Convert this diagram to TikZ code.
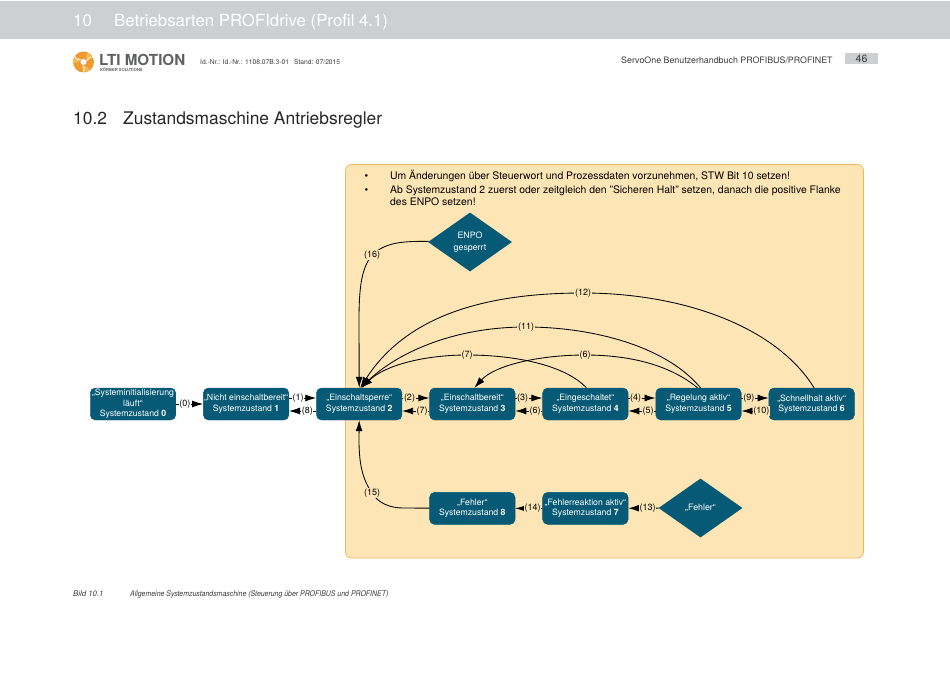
\documentclass[tikz,border=0pt]{standalone}
\usepackage{fontspec}
\setmainfont{TeX Gyre Heros}
\usepackage{xcolor}
\definecolor{ltibar}{HTML}{CDCFD1}
\definecolor{ltipanel}{HTML}{FDE5B5}
\definecolor{ltiedge}{HTML}{F0B95F}
\definecolor{ltibox}{HTML}{065A76}
\definecolor{ltitext}{HTML}{3A3A3A}
\definecolor{ltigrey}{HTML}{5F6062}
\definecolor{ltiorange}{HTML}{EE9A2E}
\definecolor{ltiamber}{HTML}{F7B85A}
\usetikzlibrary{arrows.meta,positioning,shapes.geometric}
\tikzset{
  statebox/.style={draw=ltibox,fill=ltibox,rounded corners=5pt,text=white,align=center,font=\fontsize{8.7}{10.6}\selectfont,minimum width=85.5pt,minimum height=32pt,inner sep=0pt},
  gatebox/.style={diamond,fill=ltibox,text=white,align=center,font=\fontsize{8.8}{12.5}\selectfont,minimum width=84pt,minimum height=59pt,inner sep=0pt},
  flow/.style={line width=0.85pt,-{Latex[length=11pt,width=7pt]}},
  lbl/.style={font=\fontsize{9}{10}\selectfont,fill=ltipanel,inner sep=0.6pt},
  lblw/.style={lbl,fill=white},
  textline/.style={inner sep=0pt,anchor=base west}
}
\begin{document}
\begin{tikzpicture}[x=1pt,y=-1pt,node distance=72pt and 27.2pt]
\useasboundingbox (0,0) rectangle (950,672);
\fill[ltibar] (0,1) rectangle (950,38.5);
\node[textline,text=white,font=\fontsize{16.8}{20}\selectfont] (chapnum) at (73,26.5) {10};
\node[textline,text=white,font=\fontsize{16.8}{20}\selectfont] (chaptitle) at (114,26.5) {Betriebsarten PROFIdrive (Profil 4.1)};
\fill[ltiorange] (83.5,62) circle (10.5pt);
\foreach \a in {20,140,260}{
  \fill[ltiamber,rotate around={\a:(83.5,62)}] (83.5,62) ++(3.5,0) .. controls (88,55) and (90,53) .. (93,57) .. controls (92,62) and (90,63) .. cycle;
  \draw[white,line width=0.7pt,rotate around={\a:(83.5,62)}] (87,62) .. controls (89,60) and (91,59) .. (94,61);
}
\fill[white] (83.5,62) circle (3pt);
\node[textline,text=ltigrey,font=\bfseries\fontsize{15.2}{16}\selectfont] (logo) at (99,65.5) {LTI MOTION};
\node[textline,text=ltigrey,font=\bfseries\fontsize{4.1}{5}\selectfont] (logosub) at (100,71.5) {KÖRBER SOLUTIONS};
\node[textline,text=ltitext,font=\fontsize{6.7}{8}\selectfont] (docid) at (200,64.5) {Id.-Nr.: Id.-Nr.: 1108.07B.3-01\hspace{5pt}Stand: 07/2015};
\node[textline,text=ltitext,font=\fontsize{8.85}{11}\selectfont] (manual) at (621,63.5) {ServoOne Benutzerhandbuch PROFIBUS/PROFINET};
\node[fill=ltibar,text=ltitext,minimum width=33pt,minimum height=11pt,inner sep=0pt,font=\fontsize{10.5}{10}\selectfont] (pagenum) at (861.5,58.5) {46};
\node[textline,text=black!85,font=\fontsize{17.4}{20}\selectfont] (secnum) at (73,124.5) {10.2};
\node[textline,text=black!85,font=\fontsize{17.4}{20}\selectfont] (sectitle) at (123,124.5) {Zustandsmaschine Antriebsregler};
\draw[ltiedge,fill=ltipanel,line width=0.8pt,rounded corners=6pt] (345.5,164.5) rectangle (863.5,558);
\node[anchor=north west,inner sep=0pt,font=\fontsize{10.4}{12}\selectfont] (notes) at (364.5,170) {%
\begin{tabular}{@{}p{13.5pt}@{\hspace{12pt}}l@{}}
\textbullet & Um Änderungen über Steuerwort und Prozessdaten vorzunehmen, STW Bit 10 setzen!\\[2pt]
\textbullet & Ab Systemzustand 2 zuerst oder zeitgleich den "Sicheren Halt" setzen, danach die positive Flanke\\
& des ENPO setzen!
\end{tabular}};
\node[statebox] (sys0) at (133,404) {„Systeminitialisierung\\läuft“\\Systemzustand \textbf{0}};
\node[statebox,right=of sys0] (sys1) {„Nicht einschaltbereit“\\Systemzustand \textbf{1}};
\node[statebox,right=of sys1] (sys2) {„Einschaltsperre“\\Systemzustand \textbf{2}};
\node[statebox,right=of sys2] (sys3) {„Einschaltbereit“\\Systemzustand \textbf{3}};
\node[statebox,right=of sys3] (sys4) {„Eingeschaltet“\\Systemzustand \textbf{4}};
\node[statebox,right=of sys4] (sys5) {„Regelung aktiv“\\Systemzustand \textbf{5}};
\node[statebox,right=of sys5] (sys6) {„Schnellhalt aktiv“\\Systemzustand \textbf{6}};
\node[statebox,below=of sys3] (sys8) {„Fehler“\\Systemzustand \textbf{8}};
\node[statebox,right=of sys8] (sys7) {„Fehlerreaktion aktiv“\\Systemzustand \textbf{7}};
\node[gatebox] (fault) at (700.5,508) {„Fehler“};
\node[gatebox] (enpo) at (470,242) {\raisebox{-1pt}{ENPO}\\gesperrt};
\draw[flow] (sys0) -- node[lblw,pos=.33]{(0)} (sys1);
\draw[flow] ([yshift=6pt]sys1.east) -- node[lblw,pos=.33]{(1)} ([yshift=6pt]sys2.west);
\draw[flow] ([yshift=-7pt]sys2.west) -- node[lblw,pos=.33]{(8)} ([yshift=-7pt]sys1.east);
\draw[flow] ([yshift=6pt]sys2.east) -- node[lbl,pos=.27]{(2)} ([yshift=6pt]sys3.west);
\draw[flow] ([yshift=-7pt]sys3.west) -- node[lbl,pos=.27]{(7)} ([yshift=-7pt]sys2.east);
\draw[flow] ([yshift=6pt]sys3.east) -- node[lbl,pos=.27]{(3)} ([yshift=6pt]sys4.west);
\draw[flow] ([yshift=-7pt]sys4.west) -- node[lbl,pos=.27]{(6)} ([yshift=-7pt]sys3.east);
\draw[flow] ([yshift=6pt]sys4.east) -- node[lbl,pos=.27]{(4)} ([yshift=6pt]sys5.west);
\draw[flow] ([yshift=-7pt]sys5.west) -- node[lbl,pos=.27]{(5)} ([yshift=-7pt]sys4.east);
\draw[flow] ([yshift=6pt]sys5.east) -- node[lbl,pos=.27]{(9)} ([yshift=6pt]sys6.west);
\draw[flow] ([yshift=-7pt]sys6.west) -- node[lbl,pos=.27]{(10)} ([yshift=-7pt]sys5.east);
\draw[flow] (fault) -- node[lbl,pos=.36]{(13)} (sys7);
\draw[flow] (sys7) -- node[lbl,pos=.36]{(14)} (sys8);
\draw[flow] ([xshift=2.5pt]sys6.north) .. controls (775,325) and (680,293) .. (583,293) node[lbl]{(12)} .. controls (480,293) and (405,318) .. ([xshift=1pt]sys2.north);
\draw[flow] ([xshift=2pt]sys5.north) .. controls (665,345) and (590,327) .. (526,327) node[lbl]{(11)} .. controls (450,327) and (395,355) .. ([xshift=1.5pt]sys2.north);
\draw[flow] ([xshift=1pt]sys4.north) .. controls (565,365) and (515,355) .. (467,355) node[lbl]{(7)} .. controls (425,355) and (385,365) .. ([xshift=2.5pt]sys2.north);
\draw[flow] ([xshift=-1pt]sys5.north) .. controls (670,365) and (630,355) .. (585,355) node[lbl]{(6)} .. controls (540,355) and (495,365) .. ([xshift=2pt]sys3.north);
\draw[flow] (enpo) .. controls (400,241) and (385,243) .. (372,255) node[lbl]{(16)} .. controls (362,268) and (359,285) .. (359,320) -- (sys2.north);
\draw[flow] (sys8) -- (403,508) .. controls (390,508) and (378,503) .. (372,493) node[lbl]{(15)} .. controls (363,480) and (359,465) .. (359,440) -- (sys2.south);
\node[textline,font=\itshape\fontsize{7.8}{9}\selectfont,text=ltitext] (figno) at (73,596) {Bild 10.1};
\node[textline,font=\itshape\fontsize{7.8}{9}\selectfont,text=ltitext] (figcap) at (130,596) {\scalebox{.89}[1]{Allgemeine Systemzustandsmaschine (Steuerung über PROFIBUS und PROFINET)}};
\end{tikzpicture}
\end{document}
